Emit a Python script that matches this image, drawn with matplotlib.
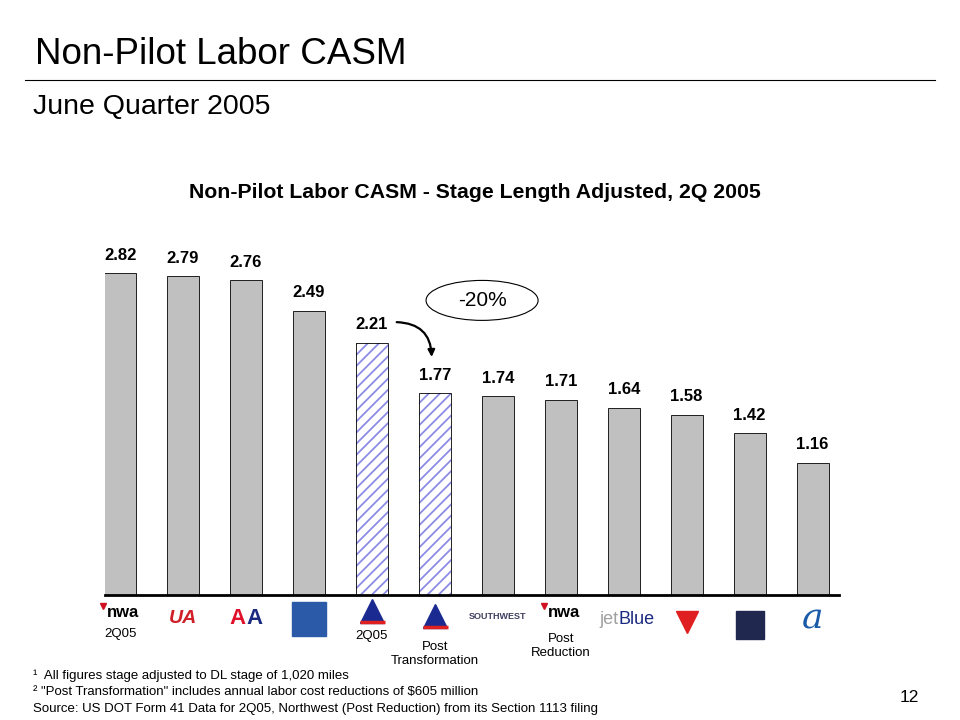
import matplotlib.pyplot as plt
from matplotlib.patches import Ellipse

plt.rcParams['font.family'] = ['Liberation Sans', 'DejaVu Sans']
plt.rcParams['hatch.linewidth'] = 1.3

# Chart data
carriers = ["NWA 2Q05", "United", "American", "Continental", "Delta 2Q05",
            "Delta Post Transformation", "Southwest", "NWA Post Reduction",
            "JetBlue", "America West", "US Airways", "AirTran"]
casm = [2.82, 2.79, 2.76, 2.49, 2.21, 1.77, 1.74, 1.71, 1.64, 1.58, 1.42, 1.16]
hatched = [False, False, False, False, True, True, False, False, False, False, False, False]
sub_labels = {0: "2Q05", 4: "2Q05", 5: "Post\nTransformation", 7: "Post\nReduction"}

fig = plt.figure(figsize=(9.6, 7.2), dpi=100)

# Page header
fig.text(35 / 960, 1 - 55 / 720, "Non-Pilot Labor CASM", fontsize=26.5, va='center', ha='left')
fig.add_artist(plt.Line2D([25 / 960, 935 / 960], [1 - 80 / 720, 1 - 80 / 720], color='black', lw=0.8))
fig.text(33 / 960, 1 - 107 / 720, "June Quarter 2005", fontsize=20.5, va='center', ha='left')
fig.text(475 / 960, 1 - 192 / 720, "Non-Pilot Labor CASM - Stage Length Adjusted, 2Q 2005",
         fontsize=15.3, fontweight='bold', va='center', ha='center')

ax = fig.add_axes([105 / 960, 1 - 595 / 720, (839 - 105) / 960, (595 - 229.6) / 720])
for i, v in enumerate(casm):
    if hatched[i]:
        ax.bar(i, v, width=0.51, color='white', edgecolor='#8c8ce6', hatch='///', lw=0)
        ax.bar(i, v, width=0.51, fill=False, edgecolor='black', lw=0.6)
    else:
        ax.bar(i, v, width=0.51, color='#c0c0c0', edgecolor='black', lw=0.6)
    ax.text(i, v + 0.09, f"{v:.2f}", ha='center', va='bottom', fontsize=12, fontweight='bold')

ax.set_xlim(-0.24, 11.42)
ax.set_ylim(0, 3.2)
for s in ['top', 'right', 'left']:
    ax.spines[s].set_visible(False)
ax.spines['bottom'].set_linewidth(2)
ax.set_xticks([])
ax.set_yticks([])

# -20% callout
ax.add_patch(Ellipse((5.75, 2.58), 1.78, 0.35, fill=False, edgecolor='black', lw=0.8))
ax.text(5.75, 2.58, "-20%", ha='center', va='center', fontsize=15)
ax.annotate("", xy=(4.95, 2.06), xytext=(4.35, 2.39),
            arrowprops=dict(arrowstyle='-|>', color='black', lw=1.6,
                            connectionstyle="angle3,angleA=0,angleB=-90", mutation_scale=10))


def py(pix):
    # pixel row below the baseline -> data y
    return (595 - pix) / 114.2


# Carrier logos (approximated as text / markers)
kw = dict(clip_on=False, ha='center', va='center')
for i in (0, 7):
    ax.text(i + 0.05, py(613), "nwa", fontsize=12, fontweight='bold', color='black', **kw)
    ax.plot(i - 0.27, py(606), marker='v', color='#d01020', markersize=4, clip_on=False)
ax.text(1, py(619), "UA", fontsize=14, fontweight='bold', style='italic', color='#d0202a', **kw)
ax.text(1.86, py(619), "A", fontsize=16, fontweight='bold', color='#e0102a', **kw)
ax.text(2.14, py(619), "A", fontsize=16, fontweight='bold', color='#1a2a80', **kw)
ax.plot(3, py(619), marker='s', color='#2a5aa8', markersize=24, clip_on=False)
for i, top in ((4, 611), (5, 616)):
    ax.plot(i, py(top), marker='^', color='#1a2a90', markersize=17, clip_on=False)
    ax.plot(i, py(top + 11), marker='_', color='#e02020', markersize=18, mew=2.5, clip_on=False)
ax.text(6, py(617), "SOUTHWEST", fontsize=6.5, fontweight='bold', color='#404060', **kw)
ax.text(7.92, py(620), "jet", fontsize=13, color='#a0a0a0', clip_on=False, ha='right', va='center')
ax.text(7.92, py(620), "Blue", fontsize=13, color='#1a2a80', clip_on=False, ha='left', va='center')
ax.plot(9, py(622), marker='v', color='#e02020', markersize=16, clip_on=False)
ax.plot(10, py(625), marker='s', color='#202850', markersize=20, clip_on=False)
ax.text(11, py(619), "a", fontsize=26, style='italic', family='DejaVu Serif', color='#1a5aa8', **kw)

label_rows = {0: 634, 4: 636, 5: 654, 7: 646}
for i, lab in sub_labels.items():
    ax.text(i, py(label_rows[i]), lab, fontsize=9.5, ha='center', va='center',
            clip_on=False, linespacing=1.3)

# Footnotes
fig.text(33 / 960, 1 - 676 / 720, "\u00b9  All figures stage adjusted to DL stage of 1,020 miles",
         fontsize=9.5, va='center')
fig.text(33 / 960, 1 - 692 / 720,
         '\u00b2 "Post Transformation" includes annual labor cost reductions of $605 million',
         fontsize=9.5, va='center')
fig.text(33 / 960, 1 - 709 / 720,
         "Source: US DOT Form 41 Data for 2Q05, Northwest (Post Reduction) from its Section 1113 filing",
         fontsize=9.5, va='center')
fig.text(909 / 960, 1 - 697 / 720, "12", fontsize=12.5, ha='center', va='center')

fig.savefig("out.png", dpi=100)
